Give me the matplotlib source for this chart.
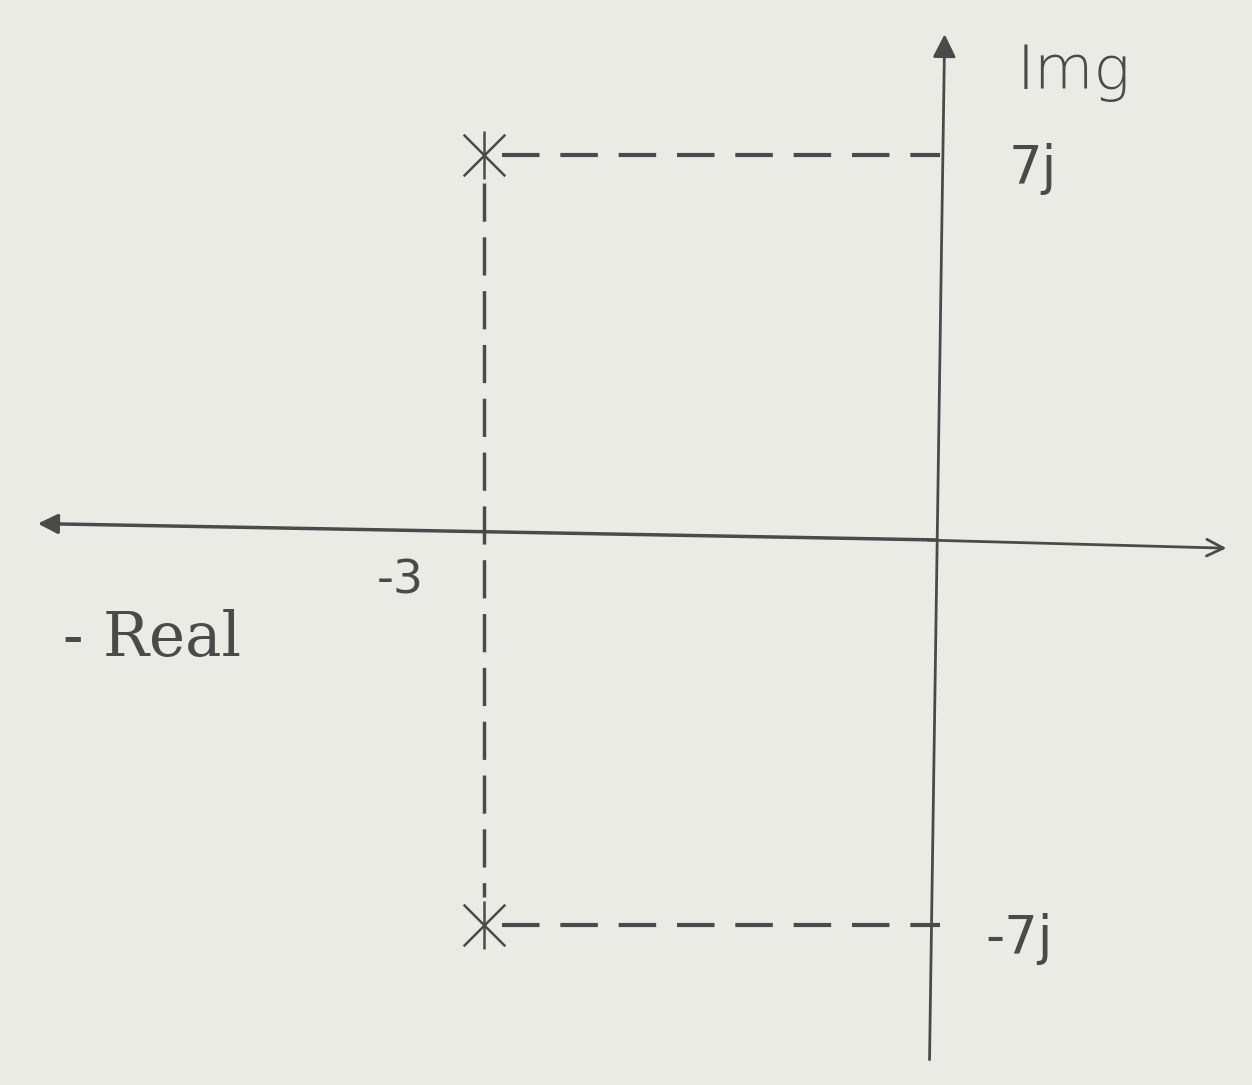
import matplotlib.pyplot as plt
import numpy as np

# poles of the system (real, imaginary)
pole_re = [-3, -3]
pole_im = [7, -7]
tick_labels = ["7j", "-7j"]
re_label = "-3"

ink = "#4a4a4a"
paper = "#ebebe6"

fig = plt.figure(figsize=(12.52, 10.85), dpi=100, facecolor=paper)
ax = fig.add_axes([0, 0, 1, 1])
ax.set_facecolor(paper)
ax.set_xlim(-6.18, 2.05)
ax.set_ylim(-9.91, 9.82)
ax.axis("off")

# real axis (arrow both ends)
ax.annotate("", xy=(-5.95, 0.3), xytext=(0.0, 0.0),
            arrowprops=dict(arrowstyle="-|>", color=ink, lw=2.5, mutation_scale=30))
ax.annotate("", xy=(1.9, -0.15), xytext=(-0.1, 0.0),
            arrowprops=dict(arrowstyle="->", color=ink, lw=2.0, mutation_scale=30))

# imaginary axis
ax.annotate("", xy=(0.03, 9.25), xytext=(-0.07, -9.5),
            arrowprops=dict(arrowstyle="-|>", color=ink, lw=2.0, mutation_scale=35))

# dashed guide lines from each pole
for re, im in zip(pole_re, pole_im):
    ax.plot([re + 0.12, 0], [im, im], ls=(0, (9, 5)), color=ink, lw=3)
ax.plot([pole_re[0], pole_re[1]], [pole_im[0] - 0.5, pole_im[1] + 0.5],
        ls=(0, (11, 4.5)), color=ink, lw=2.5)

# pole markers (x with a vertical bar)
ax.scatter(pole_re, pole_im, marker="x", s=900, color=ink, lw=1.8, zorder=3)
ax.scatter(pole_re, pole_im, marker="|", s=1200, color=ink, lw=1.8, zorder=3)

# labels
ax.text(0.88, 8.5, "Img", fontsize=44, color=ink, ha="center", va="center",
        family="DejaVu Sans", fontweight="light")
for im, lab in zip(pole_im, tick_labels):
    ax.text(0.45 if im > 0 else 0.3, im - 0.25, lab, fontsize=38, color=ink,
            ha="left", va="center", family="DejaVu Sans")
ax.text(-3.55, -0.75, re_label, fontsize=34, color=ink, ha="center", va="center",
        family="DejaVu Sans")
ax.text(-5.18, -1.8, "- Real", fontsize=44, color=ink, ha="center", va="center",
        family="DejaVu Serif")

fig.savefig("out.png", dpi=100, facecolor=paper)
